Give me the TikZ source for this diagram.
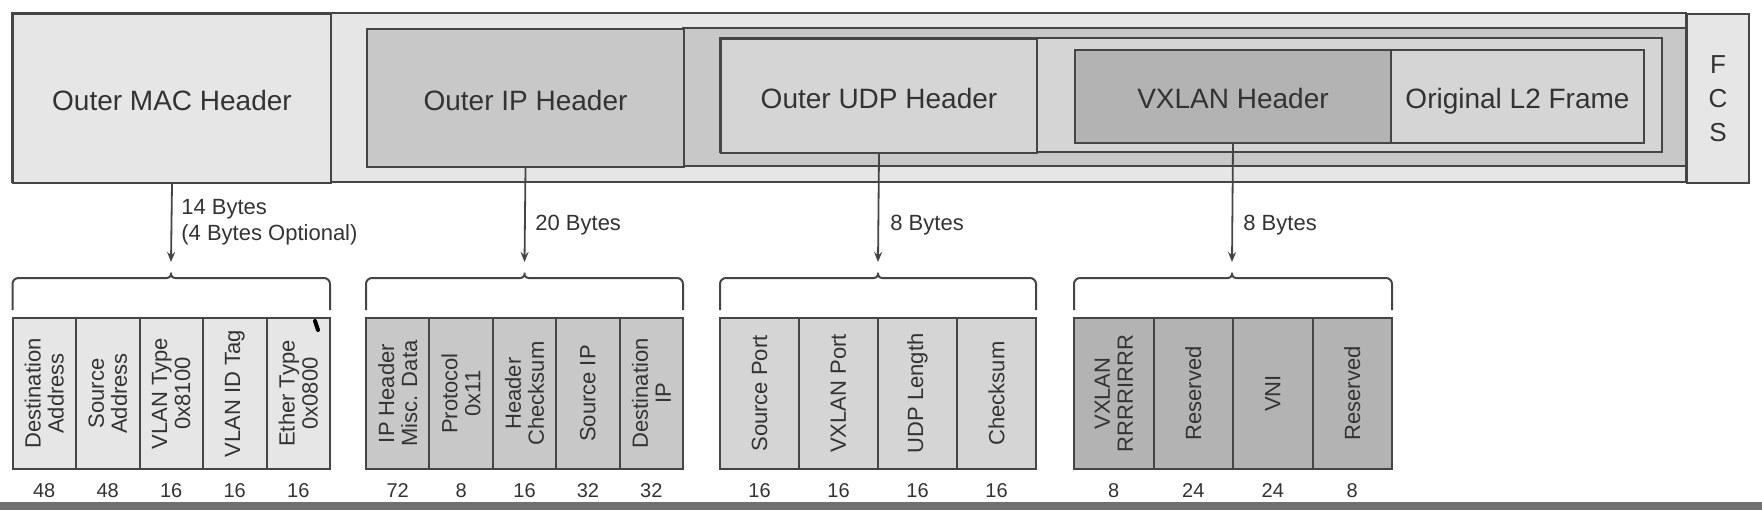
\documentclass[tikz,border=0pt]{standalone}
\usepackage{fontspec}
\setmainfont{Liberation Sans}
\usetikzlibrary{arrows.meta}
\definecolor{framegray}{HTML}{E6E6E6}
\definecolor{ipgray}{HTML}{C8C8C8}
\definecolor{udpgray}{HTML}{D5D5D5}
\definecolor{vxgray}{HTML}{B3B3B3}
\definecolor{linegray}{HTML}{454545}
\definecolor{textgray}{HTML}{333333}
\definecolor{bandgray}{HTML}{707070}
\newcommand{\dpx}{0.5pt}
% brace over a field group: left x, right x, middle x
\newcommand{\bytebrace}[3]{%
  \draw[brace] (#1,310) |- ({#3-10},278) .. controls ({#3-3},278) and (#3,277) .. (#3,269)
    .. controls (#3,277) and ({#3+3},278) .. ({#3+10},278) -| (#2,310);}

\begin{document}
\begin{tikzpicture}[x=\dpx, y=-\dpx,
    hdr/.style={draw=linegray, line width=1pt, anchor=north west, inner sep=0pt, text=textgray, text height=12pt, text depth=0pt, font=\fontsize{14}{16}\selectfont},
    fcsbox/.style={draw=linegray, line width=1pt, anchor=north west, inner sep=0pt, text=textgray, align=center, font=\fontsize{13}{17}\selectfont},
    field/.style={draw=linegray, line width=1pt, rotate=90, minimum width=151*\dpx, inner sep=0pt, align=center, text=textgray, font=\fontsize{11}{11.5}\selectfont},
    bits/.style={text=textgray, inner sep=0pt, font=\fontsize{10}{12}\selectfont},
    lbl/.style={anchor=west, align=left, inner sep=0pt, text=textgray, font=\fontsize{11}{13}\selectfont},
    arrow/.style={draw=linegray, line width=0.9pt, -{Stealth[length=5pt,width=4pt]}},
    brace/.style={draw=linegray, line width=1pt, rounded corners=3pt}]
    \useasboundingbox (0,0) rectangle (1762,510);

    % Frame
    \draw[draw=linegray, line width=1pt, fill=framegray] (12,13) rectangle (1686,182);
    \draw[draw=linegray, line width=1pt, fill=ipgray] (683,28) rectangle (1686,166);
    \draw[draw=linegray, line width=1pt, fill=udpgray] (720,38) rectangle (1662,152);
    \node[hdr, fill=framegray, minimum width=318*\dpx, minimum height=169*\dpx] (mac) at (12,13) {Outer MAC Header};
    \node[hdr, fill=ipgray, minimum width=317*\dpx, minimum height=138*\dpx] (ip) at (366,28) {Outer IP Header};
    \node[hdr, fill=udpgray, minimum width=316*\dpx, minimum height=114*\dpx] (udp) at (720,38) {Outer UDP Header};
    \node[hdr, fill=vxgray, minimum width=316*\dpx, minimum height=93*\dpx] (vxlan) at (1074,49) {VXLAN Header};
    \node[hdr, fill=udpgray, minimum width=253*\dpx, minimum height=93*\dpx] (l2) at (1390,49) {Original L2 Frame};
    \node[fcsbox, fill=framegray, minimum width=62*\dpx, minimum height=169*\dpx] (fcs) at (1686,13) {F\\C\\S};

    % Arrows
    \coordinate (mac-tip) at (171,262);
    \coordinate (ip-tip) at (524.5,262);
    \coordinate (udp-tip) at (878,262);
    \coordinate (vxlan-tip) at (1232,262);
    \draw[arrow] (mac.south) -- (mac-tip);
    \draw[arrow] (ip.south) -- (ip-tip);
    \draw[arrow] (udp.south) -- (udp-tip);
    \draw[arrow] (vxlan.south) -- (vxlan-tip);
    \node[lbl] (mac-len) at (181,222) {14 Bytes\\(4 Bytes Optional)};
    \node[lbl] (ip-len) at (535,225) {20 Bytes};
    \node[lbl] (udp-len) at (890,225) {8 Bytes};
    \node[lbl] (vxlan-len) at (1243,225) {8 Bytes};

    % Braces
    \bytebrace{12.5}{330}{171}
    \bytebrace{366}{683}{524.5}
    \bytebrace{720}{1036}{878}
    \bytebrace{1074}{1392}{1232}

    % MAC fields
    \node[field, fill=framegray, minimum height=63.5*\dpx] (mac-1) at (44.25,393.5) {Destination\\Address};
    \node[field, fill=framegray, minimum height=63.5*\dpx] (mac-2) at (107.75,393.5) {Source\\Address};
    \node[field, fill=framegray, minimum height=63.5*\dpx] (mac-3) at (171.25,393.5) {VLAN Type\\0x8100};
    \node[field, fill=framegray, minimum height=63.5*\dpx] (mac-4) at (234.75,393.5) {VLAN ID Tag};
    \node[field, fill=framegray, minimum height=63.5*\dpx] (mac-5) at (298.25,393.5) {Ether Type\\0x0800};
    \draw[line width=2pt, line cap=round] (315,321) -- (318,330);

    % IP fields
    \node[field, fill=ipgray, minimum height=63.4*\dpx] (ip-1) at (397.7,393.5) {IP Header\\Misc. Data};
    \node[field, fill=ipgray, minimum height=63.4*\dpx] (ip-2) at (461.1,393.5) {Protocol\\0x11};
    \node[field, fill=ipgray, minimum height=63.4*\dpx] (ip-3) at (524.5,393.5) {Header\\Checksum};
    \node[field, fill=ipgray, minimum height=63.4*\dpx] (ip-4) at (587.9,393.5) {Source IP};
    \node[field, fill=ipgray, minimum height=63.4*\dpx] (ip-5) at (651.3,393.5) {Destination\\IP};

    % UDP fields
    \node[field, fill=udpgray, minimum height=79*\dpx] (udp-1) at (759.5,393.5) {Source Port};
    \node[field, fill=udpgray, minimum height=79*\dpx] (udp-2) at (838.5,393.5) {VXLAN Port};
    \node[field, fill=udpgray, minimum height=79*\dpx] (udp-3) at (917.5,393.5) {UDP Length};
    \node[field, fill=udpgray, minimum height=79*\dpx] (udp-4) at (996.5,393.5) {Checksum};

    % VXLAN fields
    \node[field, fill=vxgray, minimum height=79.5*\dpx] (vxlan-1) at (1113.75,393.5) {VXLAN\\RRRRIRRR};
    \node[field, fill=vxgray, minimum height=79.5*\dpx] (vxlan-2) at (1193.25,393.5) {Reserved};
    \node[field, fill=vxgray, minimum height=79.5*\dpx] (vxlan-3) at (1272.75,393.5) {VNI};
    \node[field, fill=vxgray, minimum height=79.5*\dpx] (vxlan-4) at (1352.25,393.5) {Reserved};

    % Bit widths
    \node[bits] (b-mac-1) at (44.25,491) {48};
    \node[bits] (b-mac-2) at (107.75,491) {48};
    \node[bits] (b-mac-3) at (171.25,491) {16};
    \node[bits] (b-mac-4) at (234.75,491) {16};
    \node[bits] (b-mac-5) at (298.25,491) {16};
    \node[bits] (b-ip-1) at (397.7,491) {72};
    \node[bits] (b-ip-2) at (461.1,491) {8};
    \node[bits] (b-ip-3) at (524.5,491) {16};
    \node[bits] (b-ip-4) at (587.9,491) {32};
    \node[bits] (b-ip-5) at (651.3,491) {32};
    \node[bits] (b-udp-1) at (759.5,491) {16};
    \node[bits] (b-udp-2) at (838.5,491) {16};
    \node[bits] (b-udp-3) at (917.5,491) {16};
    \node[bits] (b-udp-4) at (996.5,491) {16};
    \node[bits] (b-vxlan-1) at (1113.75,491) {8};
    \node[bits] (b-vxlan-2) at (1193.25,491) {24};
    \node[bits] (b-vxlan-3) at (1272.75,491) {24};
    \node[bits] (b-vxlan-4) at (1352.25,491) {8};

    % Strip at the bottom edge
    \fill[bandgray] (0,502) rectangle (1762,510);
\end{tikzpicture}
\end{document}
